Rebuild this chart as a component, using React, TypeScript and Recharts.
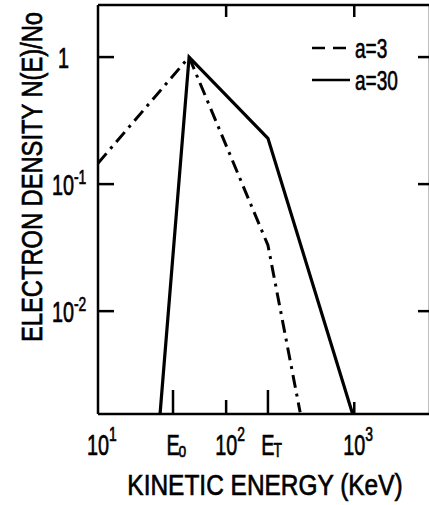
import { LineChart, Line, XAxis, YAxis, Legend, ReferenceLine } from "recharts"

// electron density N(E)/No vs kinetic energy (keV)
const E_ZERO = 38.5
const E_T = 212

const energyA3 = [10, 51.4, E_T, 378]
const densityA3 = [0.146, 1, 0.033, 0.0016]

const energyA30 = [30.5, 51.4, E_T, 971]
const densityA30 = [0.00155, 1, 0.229, 0.00155]

const xTicks = [10, E_ZERO, 100, E_T, 1000]
const xTickLabels = [
  { main: "10", sup: "1" },
  { main: "E", sub: "o" },
  { main: "10", sup: "2" },
  { main: "E", sub: "T" },
  { main: "10", sup: "3" },
]
const yTicks = [1, 0.1, 0.01]
const yTickLabels = [{ main: "1" }, { main: "10", sup: "-1" }, { main: "10", sup: "-2" }]

const seriesNames = ["a=3", "a=30"]

const a3 = energyA3.map((e, i) => ({ e, n: densityA3[i] }))
const a30 = energyA30.map((e, i) => ({ e, n: densityA30[i] }))

const W = 440
const H = 505
const MARGIN = { top: 5, right: 10, bottom: 0, left: 0 }
const Y_AXIS_W = 98
const X_AXIS_H = 91
const PLOT_W = W - MARGIN.left - MARGIN.right - Y_AXIS_W
const PLOT_H = H - MARGIN.top - MARGIN.bottom - X_AXIS_H
const X_DOMAIN = [10, 3900]
const Y_DOMAIN = [0.00155, 2.57]

const FONT = "'Liberation Sans', Arial, sans-serif"
const INK = "#000"
const SX = 0.66

// bottom tick lengths per x tick (E markers are longer)
const bottomTickLen = [0, 24, 14, 24, 12]
const topTickValues = [100, 1000]

function Txt({ x, y, size, sx = SX, anchor = "start", children }: any) {
  return (
    <g transform={`translate(${x},${y}) scale(${sx},1)`}>
      <text
        x={0}
        y={0}
        fontSize={size}
        fontFamily={FONT}
        fill={INK}
        stroke={INK}
        strokeWidth={0.7}
        textAnchor={anchor}
      >
        {children}
      </text>
    </g>
  )
}

function XTick({ x, y, payload, index }: any) {
  const lab = xTickLabels[index] || { main: "" }
  const len = bottomTickLen[index] || 0
  const half = lab.main.length > 1 ? 11 : 5.5
  return (
    <g>
      {len > 0 && <line x1={x} x2={x} y1={y} y2={y - len} stroke={INK} strokeWidth={2.5} />}
      {topTickValues.includes(payload.value) && (
        <line x1={x} x2={x} y1={y - PLOT_H} y2={y - PLOT_H + 12} stroke={INK} strokeWidth={2.5} />
      )}
      <Txt x={x} y={y + 41} size={30} anchor="middle">{lab.main}</Txt>
      {lab.sup && <Txt x={x + half} y={y + 27} size={21}>{lab.sup}</Txt>}
      {lab.sub && <Txt x={x + half} y={y + 43} size={21}>{lab.sub}</Txt>}
    </g>
  )
}

function YTick({ x, y, index }: any) {
  const lab = yTickLabels[index] || { main: "" }
  const end = lab.sup ? x - 24 : x - 29
  return (
    <g>
      <line x1={x} x2={x + 16} y1={y} y2={y} stroke={INK} strokeWidth={2.5} />
      <line x1={x + PLOT_W - 12} x2={x + PLOT_W} y1={y} y2={y} stroke={INK} strokeWidth={2.5} />
      <Txt x={end} y={y + 11} size={30} anchor="end">{lab.main}</Txt>
      {lab.sup && <Txt x={end} y={y} size={21}>{lab.sup}</Txt>}
    </g>
  )
}

const legendDash = ["13 8", undefined]

function LegendBox({ payload }: any) {
  return (
    <svg width={120} height={70} style={{ display: "block" }}>
      {(payload || []).map((p: any, i: number) => {
        const cy = 18 + i * 32
        return (
          <g key={p.value}>
            <line x1={12} x2={i === 0 ? 46 : 50} y1={cy} y2={cy} stroke={INK} strokeWidth={2.5} strokeDasharray={legendDash[i]} />
            <Txt x={55} y={cy + 10} size={28} sx={0.68}>{p.value}</Txt>
          </g>
        )
      })}
    </svg>
  )
}

export default function App() {
  return (
    <div style={{ position: "absolute", left: 0, top: 0, width: 429, height: 505, overflow: "hidden", background: "#fff" }}>
      <LineChart width={W} height={H} margin={MARGIN}>
        <XAxis
          dataKey="e"
          type="number"
          scale="log"
          domain={X_DOMAIN}
          allowDataOverflow
          ticks={xTicks}
          interval={0}
          height={X_AXIS_H}
          tickSize={0}
          tickMargin={0}
          tickLine={false}
          axisLine={{ stroke: INK, strokeWidth: 2.5 }}
          tick={<XTick />}
        />
        <YAxis
          dataKey="n"
          type="number"
          scale="log"
          domain={Y_DOMAIN}
          allowDataOverflow
          ticks={yTicks}
          interval={0}
          width={Y_AXIS_W}
          tickSize={0}
          tickMargin={0}
          tickLine={false}
          axisLine={{ stroke: INK, strokeWidth: 2.5 }}
          tick={<YTick />}
        />
        <ReferenceLine y={Y_DOMAIN[1]} stroke={INK} strokeWidth={2.5} />
        <ReferenceLine x={X_DOMAIN[1]} stroke={INK} strokeWidth={2.5} />
        <Legend
          verticalAlign="middle"
          align="center"
          layout="horizontal"
          content={<LegendBox />}
          wrapperStyle={{ left: 300, top: 30, width: 120, height: 70 }}
        />
        <Line
          data={a3}
          dataKey="n"
          name={seriesNames[0]}
          stroke={INK}
          strokeWidth={3}
          strokeDasharray="13 6 3 6"
          dot={false}
          activeDot={false}
          isAnimationActive={false}
        />
        <Line
          data={a30}
          dataKey="n"
          name={seriesNames[1]}
          stroke={INK}
          strokeWidth={3.2}
          dot={false}
          activeDot={false}
          isAnimationActive={false}
        />
      </LineChart>
      <svg width={429} height={505} style={{ position: "absolute", left: 0, top: 0, pointerEvents: "none" }}>
        <g transform="translate(42,177) rotate(-90)">
          <Txt x={0} y={0} size={30} sx={0.79} anchor="middle">ELECTRON DENSITY N(E)/No</Txt>
        </g>
        <Txt x={265} y={495} size={30} sx={0.815} anchor="middle">KINETIC ENERGY (KeV)</Txt>
      </svg>
    </div>
  )
}
